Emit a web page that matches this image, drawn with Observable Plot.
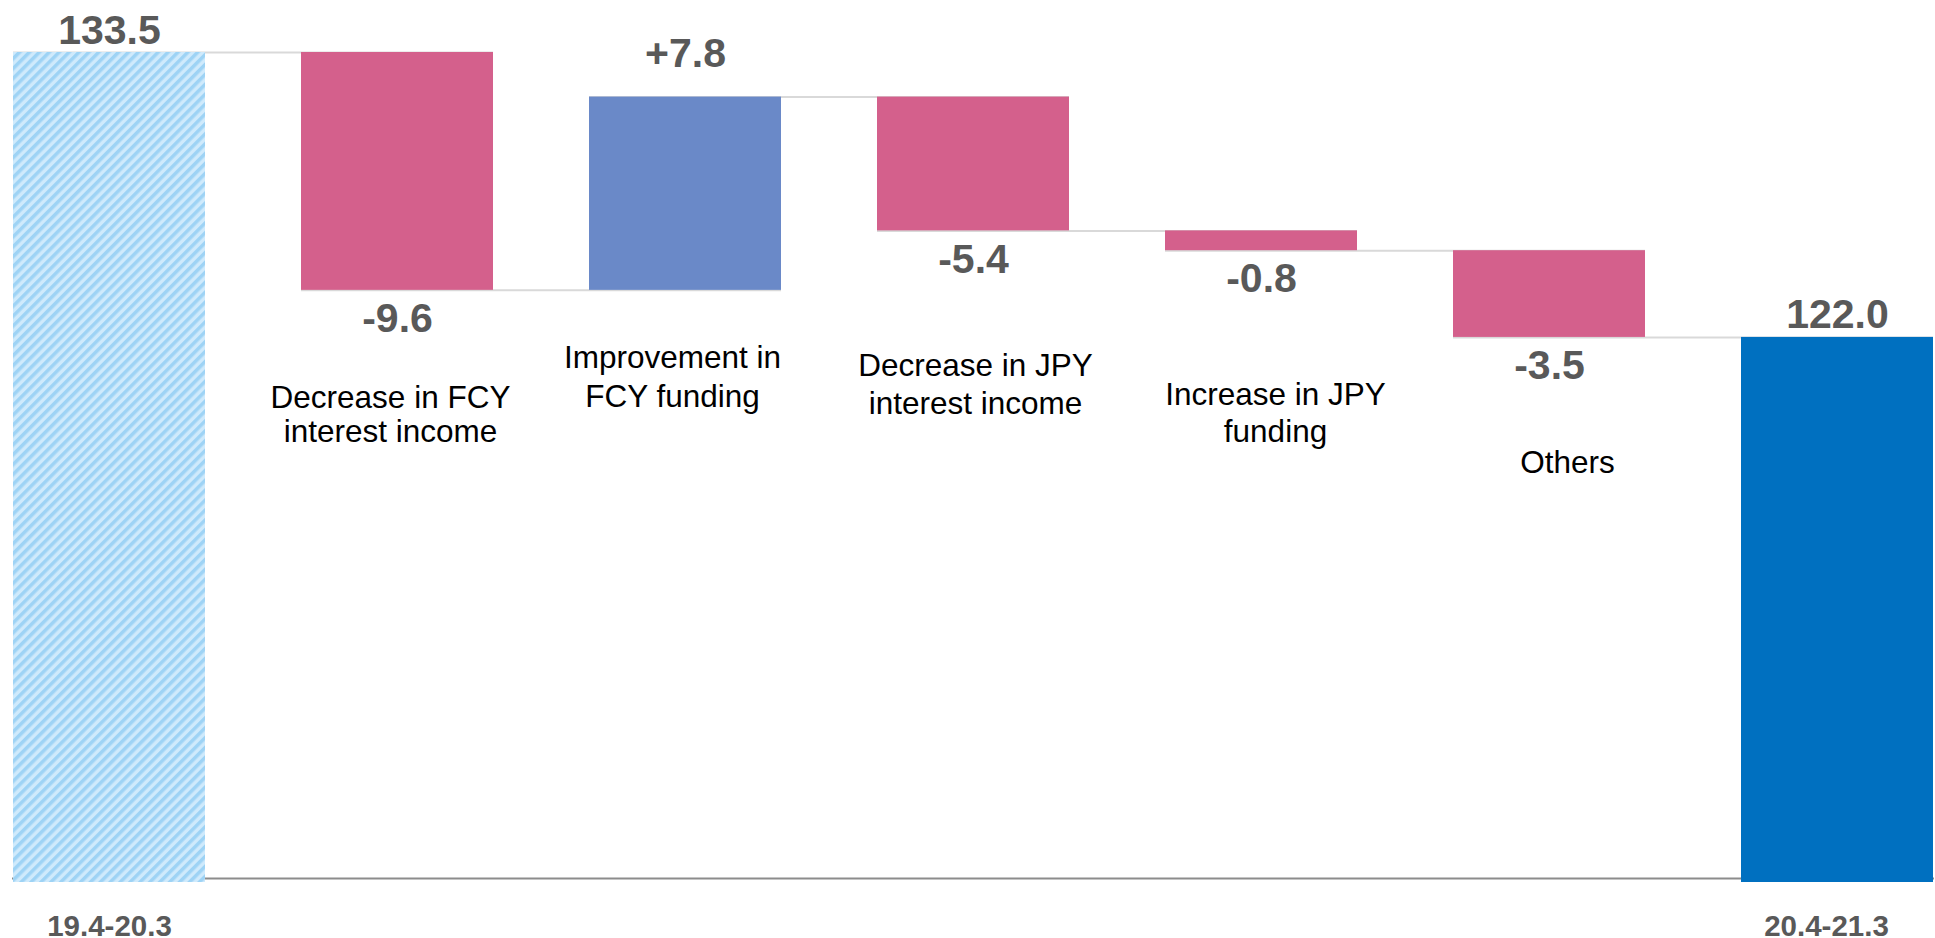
<!DOCTYPE html>
<html>
<head>
<meta charset="utf-8">
<script src="https://cdn.jsdelivr.net/npm/d3@7"></script>
<script src="https://cdn.jsdelivr.net/npm/@observablehq/plot@0.6"></script>
<style>
  html, body { margin: 0; padding: 0; background: #ffffff; }
  #chart svg { display: block; }
</style>
</head>
<body>
<div id="chart"></div>
<script>
// ---- data ----
const periodLabels = ["19.4-20.3", "20.4-21.3"];
const stepLabels = [
  "Decrease in FCY\ninterest income",
  "Improvement in\nFCY funding",
  "Decrease in JPY\ninterest income",
  "Increase in JPY\nfunding",
  "Others"
];
const startValue = 133.5;
const stepChanges = [-9.6, 7.8, -5.4, -0.8, -3.5];
const endValue = 122.0;
const axisFloor = 100;

// ---- layout (not data) ----
const W = 1935, H = 938;
const M = {top: 52, right: 1, bottom: 56, left: 12};
const stepLabelLayout = [
  {baseline: 407, gap: 35, dx: -7},
  {baseline: 367, gap: 40, dx: -13},
  {baseline: 375, gap: 39, dx: 2},
  {baseline: 404, gap: 38, dx: 14},
  {baseline: 472, gap: 38, dx: 18}
];
const FONT = "'Liberation Sans', Arial, Helvetica, sans-serif";
const colors = {start: "url(#hatch)", decrease: "#d4608c", increase: "#6a89c8", end: "#0070c0"};

// ---- build waterfall rows ----
const keys = [periodLabels[0], ...stepLabels, periodLabels[1]];
const rows = [];
rows.push({key: keys[0], y1: axisFloor, y2: startValue, kind: "start", value: startValue});
let level = startValue;
stepChanges.forEach((c, i) => {
  const next = +(level + c).toFixed(4);
  rows.push({key: stepLabels[i], y1: level, y2: next, kind: c < 0 ? "decrease" : "increase", value: c});
  level = next;
});
rows.push({key: keys[keys.length - 1], y1: axisFloor, y2: endValue, kind: "end", value: endValue});

const connectors = rows.slice(0, -1).map((r, i) => ({
  x1: r.key, x2: rows[i + 1].key, y: r.y2
}));

const fmt = (r) => r.kind === "start" || r.kind === "end"
  ? r.value.toFixed(1)
  : (r.value > 0 ? "+" : "") + r.value.toFixed(1);

const topOf = (r) => Math.max(r.y1, r.y2);
const bottomOf = (r) => Math.min(r.y1, r.y2);

const valFs = 41;
const marks = [];
// baseline
marks.push(Plot.ruleY([axisFloor], {stroke: "#8c8c8c", strokeWidth: 2, dy: -4}));
// connectors
marks.push(Plot.ruleY(connectors, {x1: "x1", x2: "x2", y: "y", stroke: "#d9d9d9", strokeWidth: 2}));
// bars
for (const kind of ["start", "decrease", "increase", "end"]) {
  marks.push(Plot.barY(rows.filter(r => r.kind === kind), {
    x: "key", y1: "y1", y2: "y2", fill: colors[kind]
  }));
}
// value labels above
marks.push(Plot.text(rows.filter(r => r.kind === "start" || r.kind === "end"), {
  x: "key", y: topOf, text: fmt, lineAnchor: "bottom", dy: -9,
  fontSize: valFs, fontWeight: "bold", fill: "#595959", fontFamily: FONT
}));
marks.push(Plot.text(rows.filter(r => r.kind === "increase"), {
  x: "key", y: topOf, text: fmt, lineAnchor: "bottom", dy: -30,
  fontSize: valFs, fontWeight: "bold", fill: "#595959", fontFamily: FONT
}));
// value labels below
marks.push(Plot.text(rows.filter(r => r.kind === "decrease"), {
  x: "key", y: bottomOf, text: fmt, lineAnchor: "top", dy: 12.5,
  fontSize: valFs, fontWeight: "bold", fill: "#595959", fontFamily: FONT
}));
// step category labels
const catFs = 31.5;
stepLabels.forEach((lab, i) => {
  const L = stepLabelLayout[i];
  const lh = L.gap / catFs;
  const dy = L.baseline - M.top - 0.71 * lh * catFs;
  marks.push(Plot.text([lab], {
    x: d => d, frameAnchor: "top", text: d => d, lineAnchor: "top",
    lineHeight: lh, dy, dx: L.dx,
    fontSize: catFs, fill: "#000000", fontFamily: FONT
  }));
});
// period labels below the baseline
const periodDx = [0, -11];
periodLabels.forEach((p, i) => {
  marks.push(Plot.text([p], {
    x: d => d, frameAnchor: "bottom", text: d => d, lineAnchor: "bottom",
    dy: 53, dx: periodDx[i],
    fontSize: 29.5, fontWeight: "bold", fill: "#595959", fontFamily: FONT
  }));
});

const svg = Plot.plot({
  width: W, height: H,
  marginTop: M.top, marginRight: M.right, marginBottom: M.bottom, marginLeft: M.left,
  style: {fontFamily: FONT, background: "#ffffff", overflow: "visible"},
  x: {type: "band", domain: keys, paddingInner: 1 / 3, paddingOuter: 0, axis: null},
  y: {domain: [axisFloor, startValue], axis: null},
  marks
});

// hatch pattern for the starting bar
const defs = d3.select(svg).insert("defs", ":first-child");
const pat = defs.append("pattern")
  .attr("id", "hatch")
  .attr("patternUnits", "userSpaceOnUse")
  .attr("width", 7).attr("height", 7)
  .attr("patternTransform", "rotate(45)");
pat.append("rect").attr("width", 7).attr("height", 7).attr("fill", "#cfeafc");
pat.append("rect").attr("width", 3.5).attr("height", 7).attr("fill", "#9ed3f5");

document.getElementById("chart").appendChild(svg);
</script>
</body>
</html>
